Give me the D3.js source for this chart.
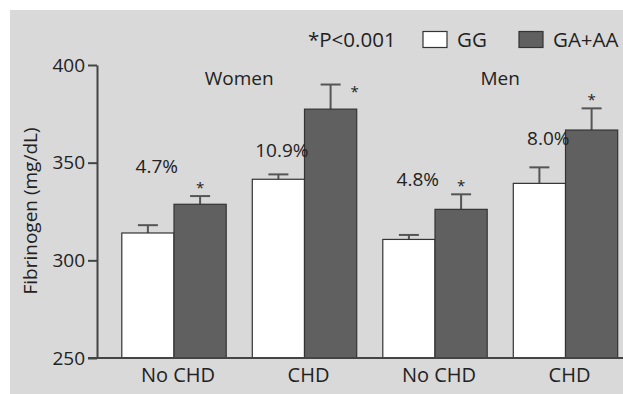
<!DOCTYPE html>
<html>
<head>
<meta charset="utf-8">
<script src="https://cdn.jsdelivr.net/npm/d3@7"></script>
<style>
  body { margin: 0; background: #fff; }
  text { font-family: "Open Sans", sans-serif; fill: #222; }
</style>
</head>
<body>
<div id="chart"></div>
<script>
// data (mg/dL)
const groups = ["Women-No CHD", "Women-CHD", "Men-No CHD", "Men-CHD"];
const groupLabels = ["No CHD", "CHD", "No CHD", "CHD"];
const sexes = ["Women", "Men"];
const genotypes = ["GG", "GA+AA"];
const ggMean = [314, 341.5, 310.7, 339.4];
const ggErr = [318, 344, 313, 347.6];
const gaMean = [328.7, 377.4, 326.1, 366.7];
const gaErr = [332.9, 390, 333.8, 377.8];
const pctLabels = ["4.7%", "10.9%", "4.8%", "8.0%"];
const pctAt = [344.7, 352.9, 338, 359];
const starSide = ["top", "right", "top", "top"];
const yTicks = [250, 300, 350, 400];

var W = 623, H = 394;

var svg = d3.select("#chart").append("svg")
    .attr("width", W)
    .attr("height", H);

// grey panel
svg.append("rect")
    .attr("x", 10).attr("y", 10)
    .attr("width", W - 10).attr("height", H - 10)
    .attr("fill", "#d9d9d9");

const y = d3.scaleLinear().domain([250, 400]).range([358, 65]);

const x0 = d3.scaleBand()
    .domain(groups)
    .range([97, 642.5])
    .paddingInner(0.2)
    .paddingOuter(0.19);

const x1 = d3.scaleBand()
    .domain(genotypes)
    .range([0, x0.bandwidth()]);

const color = { "GG": "#ffffff", "GA+AA": "#606060" };

// rows per bar
const rows = [];
groups.forEach((g, i) => {
  rows.push({ g: g, i: i, k: "GG", v: ggMean[i], e: ggErr[i] });
  rows.push({ g: g, i: i, k: "GA+AA", v: gaMean[i], e: gaErr[i] });
});

// error bars (upper only)
const err = svg.append("g").attr("stroke", "#555").attr("stroke-width", 2);
err.selectAll("line.v").data(rows).enter().append("line")
    .attr("x1", d => x0(d.g) + x1(d.k) + x1.bandwidth() / 2)
    .attr("x2", d => x0(d.g) + x1(d.k) + x1.bandwidth() / 2)
    .attr("y1", d => y(d.v))
    .attr("y2", d => y(d.e));
err.selectAll("line.c").data(rows).enter().append("line")
    .attr("x1", d => x0(d.g) + x1(d.k) + x1.bandwidth() / 2 - 10)
    .attr("x2", d => x0(d.g) + x1(d.k) + x1.bandwidth() / 2 + 10)
    .attr("y1", d => y(d.e))
    .attr("y2", d => y(d.e));

// bars
svg.append("g").selectAll("rect").data(rows).enter().append("rect")
    .attr("x", d => x0(d.g) + x1(d.k))
    .attr("y", d => y(d.v))
    .attr("width", x1.bandwidth())
    .attr("height", d => y(250) - y(d.v))
    .attr("fill", d => color[d.k])
    .attr("stroke", "#333")
    .attr("stroke-width", 1.2);

// significance stars
svg.append("g").selectAll("text").data(groups).enter().append("text")
    .attr("x", (d, i) => {
      var cx = x0(d) + x1("GA+AA") + x1.bandwidth() / 2;
      return starSide[i] == "right" ? cx + 24 : cx;
    })
    .attr("y", (d, i) => starSide[i] == "right" ? y(gaErr[i]) + 12 : y(gaErr[i]) - 3)
    .attr("text-anchor", "middle")
    .style("font-size", "15px")
    .text("*");

// percent labels
svg.append("g").selectAll("text").data(groups).enter().append("text")
    .attr("x", d => x0(d) + x1("GG") + x1.bandwidth() + 4)
    .attr("y", (d, i) => y(pctAt[i]))
    .attr("text-anchor", "end")
    .style("font-size", "19px")
    .text((d, i) => pctLabels[i]);

// sex titles
svg.append("g").selectAll("text").data(sexes).enter().append("text")
    .attr("x", d => (x0(d + "-No CHD") + x0(d + "-CHD") + x0.bandwidth()) / 2)
    .attr("y", 85)
    .attr("text-anchor", "middle")
    .style("font-size", "19px")
    .text(d => d);

// y axis
const yAxis = svg.append("g")
    .attr("transform", "translate(97,0)")
    .call(d3.axisLeft(y).tickValues(yTicks).tickSize(9).tickSizeOuter(0).tickPadding(3));
yAxis.select(".domain").attr("stroke", "#444").attr("stroke-width", 2);
yAxis.selectAll(".tick line").attr("stroke", "#444").attr("stroke-width", 2);
yAxis.selectAll(".tick text")
    .style("font-size", "19px")
    .style("font-family", "Open Sans, sans-serif")
    .attr("fill", "#222");

// x axis line + labels
svg.append("line")
    .attr("x1", 88).attr("x2", W)
    .attr("y1", y(250)).attr("y2", y(250))
    .attr("stroke", "#444").attr("stroke-width", 2);

svg.append("g").selectAll("text").data(groups).enter().append("text")
    .attr("x", d => x0(d) + x0.bandwidth() / 2 + 4)
    .attr("y", 382)
    .attr("text-anchor", "middle")
    .style("font-size", "20px")
    .text((d, i) => groupLabels[i]);

// y label
svg.append("text")
    .attr("transform", "translate(37,211) rotate(-90)")
    .attr("text-anchor", "middle")
    .style("font-size", "19px")
    .text("Fibrinogen (mg/dL)");

// legend (runs off the right edge like the original)
const legend = svg.append("g");
legend.append("text")
    .attr("x", 308).attr("y", 47)
    .style("font-size", "20.5px")
    .text("*P<0.001");
genotypes.forEach((k, i) => {
  var lx = 423 + i * 96;
  legend.append("rect")
      .attr("x", lx).attr("y", 31.5)
      .attr("width", 24).attr("height", 16)
      .attr("fill", color[k])
      .attr("stroke", "#333")
      .attr("stroke-width", 1.2);
  legend.append("text")
      .attr("x", lx + 34).attr("y", 47)
      .style("font-size", "20.5px")
      .text(k);
});
</script>
</body>
</html>
